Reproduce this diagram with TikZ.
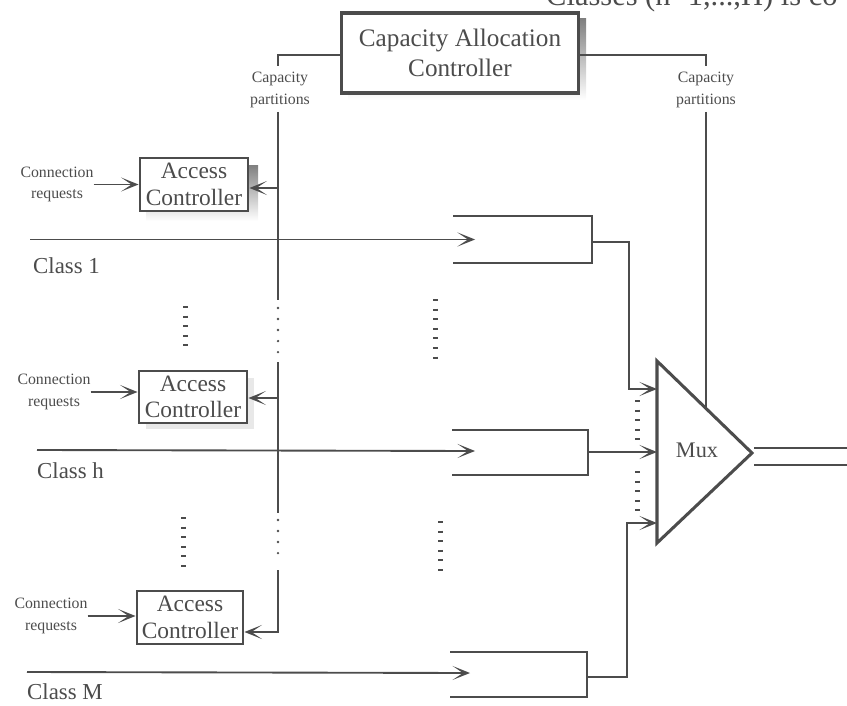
\documentclass[tikz,border=0pt]{standalone}
\usepackage{fontspec}
\setmainfont{Liberation Serif}
\usetikzlibrary{arrows.meta}
\definecolor{ink}{gray}{0.30}
\definecolor{txt}{gray}{0.30}
\definecolor{shade}{gray}{0.85}
\begin{document}
\begin{tikzpicture}[x=0.03cm,y=-0.03cm,
  ln/.style={draw=ink,line width=1.6pt},
  arr/.style={ln,-{Stealth[length=15pt,width=12pt,inset=9pt]}},
  ctrl/.style={draw=ink,line width=2.4pt,fill=white,inner sep=0pt,align=center,text=txt,
    font=\fontsize{20}{22.5}\selectfont},
  small/.style={text=txt,align=center,inner sep=0pt,font=\fontsize{13.5}{18.5}\selectfont},
  cls/.style={text=txt,anchor=west,inner sep=0pt,font=\fontsize{19.5}{22}\selectfont},
  ticks/.style={draw=ink,line width=0.15cm,dash pattern=on 1.7pt off 6.5pt},
  dots/.style={draw=ink,line width=2.2pt,line cap=round,dash pattern=on 0pt off 9.4pt},
  buf/.style={draw=ink,line width=1.6pt}
]
\useasboundingbox (0,0) rectangle (847,705);
\clip (0,0) rectangle (847,705);

% partial text line at the top (cut off by the page edge)
\node[anchor=base west,inner sep=0pt,text=txt,font=\fontsize{26}{28}\selectfont] (toptext) at (546,6) {Classes (n=1,...,H) is co};

% Capacity Allocation Controller
\fill[shade] (348,19) rectangle (586,100);
\node[ctrl,line width=2.6pt,minimum width=7.1cm,minimum height=2.4cm,font=\fontsize{21.5}{25}\selectfont] (cac) at (460,53) {Capacity Allocation\\Controller};

% Access controllers
\fill[shade] (146,165) rectangle (258,221);
\node[ctrl,minimum width=3.24cm,minimum height=1.59cm] (ac1) at (194,184.5) {Access\\Controller};
\fill[shade!60] (146,378) rectangle (254,429);
\node[ctrl,minimum width=3.24cm,minimum height=1.56cm] (ac2) at (193,397) {Access\\Controller};
\node[ctrl,minimum width=3.18cm,minimum height=1.59cm] (ac3) at (190,617.5) {Access\\Controller};

% Connection request labels and arrows
\node[small] (cr1) at (57,184.5) {Connection\\requests};
\node[small] (cr2) at (54,392) {Connection\\requests};
\node[small] (cr3) at (51,616) {Connection\\requests};
\draw[arr] (cr1.east) -- (cr1.east -| ac1.west);
\draw[arr] (cr2.east) -- (cr2.east -| ac2.west);
\draw[arr] (cr3.east) -- (cr3.east -| ac3.west);

% Capacity partitions (left)
\node[small] (cpl) at (280,90) {Capacity\\partitions};
\coordinate (l0) at (278,55);
\coordinate (l1) at (278,112);
\coordinate (v1) at (278,188);
\coordinate (v2) at (278,398);
\coordinate (v3) at (278,632);
\draw[ln] (cac.west |- l0) -- (l0) -- (278,66);
\draw[ln] (l1) -- (278,300);
\draw[dots] (278,308) -- (278,354);
\draw[ln] (278,362) -- (278,513);
\draw[dots] (278,520) -- (278,562);
\draw[arr] (278,570) -- (v3) -- (v3 -| ac3.east);
\draw[arr] (v1) -- (v1 -| ac1.east);
\draw[arr] (v2) -- (v2 -| ac2.east);

% Capacity partitions (right)
\node[small] (cpr) at (706,90) {Capacity\\partitions};
\coordinate (r0) at (706,55);
\coordinate (mcap) at (706,408.5);
\draw[ln] (cac.east |- r0) -- (r0) -- (706,66);
\draw[ln] (706,112) -- (mcap);

% Class labels and input lines
\node[cls] (c1) at (33,266) {Class 1};
\node[cls] (ch) at (37,471) {Class h};
\node[cls] (cm) at (27,692) {Class M};
\coordinate (b1in) at (475,239.5);
\coordinate (bhin) at (475,451);
\coordinate (bmin) at (470,673);
\draw[arr] (30,239.5) -- (b1in);
\draw[arr] (37,450) -- (bhin);
\draw[arr] (27,672) -- (bmin);

% buffers
\draw[buf] (453,216) -- (592,216) -- (592,263) -- (453,263);
\draw[buf] (452,430) -- (588,430) -- (588,475) -- (452,475);
\draw[buf] (450,652) -- (587,652) -- (587,697) -- (450,697);

% Mux
\coordinate (mA) at (657,361);
\coordinate (mB) at (752,453);
\coordinate (mC) at (657,543);
\draw[draw=ink,line width=2.6pt,line join=miter] (mA) -- (mB) -- (mC) -- cycle;
\node[text=txt,font=\fontsize{19}{22}\selectfont] (mux) at (697,450) {Mux};
\coordinate (m1) at (657,389);
\coordinate (m2) at (657,452);
\coordinate (m3) at (657,523);
\draw[arr] (592,242) -- (629,242) -- (629,389) -- (m1);
\draw[arr] (588,452) -- (m2);
\draw[arr] (587,677) -- (627,677) -- (627,523) -- (m3);
\draw[ln] (754,448) -- (847,448);
\draw[ln] (754,465) -- (847,465);

% vertical ellipses
\draw[ticks] (637,400) -- (637,441);
\draw[ticks] (637,471) -- (637,516);
\draw[ticks] (185,306) -- (185,348);
\draw[ticks] (183,517) -- (183,571);
\draw[ticks] (435,299) -- (435,360);
\draw[ticks] (440,521) -- (440,575);
\end{tikzpicture}
\end{document}
